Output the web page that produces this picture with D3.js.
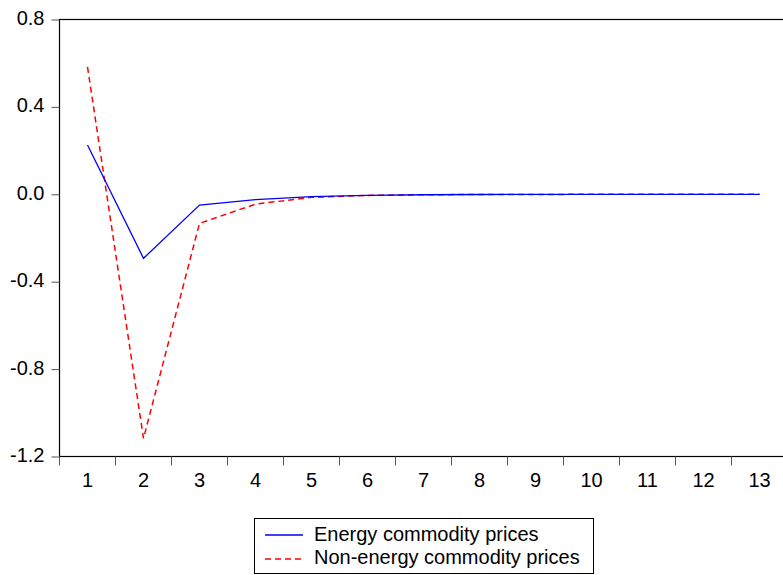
<!DOCTYPE html>
<html>
<head>
<meta charset="utf-8">
<script src="https://cdn.jsdelivr.net/npm/d3@7"></script>
<style>
  html, body { margin: 0; padding: 0; background: #fff; }
  svg { display: block; font-family: Arial, "Liberation Sans", sans-serif; }
</style>
</head>
<body>
<svg id="chart" width="783" height="575"></svg>
<script>
// Impulse response horizons
const periods = [1, 2, 3, 4, 5, 6, 7, 8, 9, 10, 11, 12, 13];
const energy = [0.226, -0.293, -0.049, -0.024, -0.011, -0.005, -0.002, -0.001, -0.0005, -0.0002, -0.0001, 0, 0];
const nonEnergy = [0.583, -1.117, -0.133, -0.045, -0.014, -0.005, -0.002, -0.001, -0.0005, -0.0002, -0.0001, 0, 0];
const yTicks = [0.8, 0.4, 0.0, -0.4, -0.8, -1.2];
const seriesNames = ["Energy commodity prices", "Non-energy commodity prices"];

(function draw() {
  const svg = d3.select("#chart");
  const plotLeft = 59.5, plotRight = 787.5, plotTop = 19.5, plotBottom = 456.5;
  const fontSize = 20;

  const x = d3.scaleBand().domain(periods).range([plotLeft, plotRight]);
  const y = d3.scaleLinear().domain([-1.2, 0.8]).range([plotBottom, plotTop]);

  // frame
  svg.append("rect")
    .attr("x", plotLeft).attr("y", plotTop)
    .attr("width", plotRight - plotLeft).attr("height", plotBottom - plotTop)
    .attr("fill", "none").attr("stroke", "#000").attr("stroke-width", 1.2);

  // y axis (plain hyphen for negatives)
  const fmt = d3.format(".1f");
  const yAxis = d3.axisLeft(y).tickValues(yTicks).tickSize(8).tickPadding(7)
    .tickFormat(d => fmt(d).replace("\u2212", "-"));
  const gy = svg.append("g").attr("transform", `translate(${plotLeft},0)`).call(yAxis);
  gy.select(".domain").remove();
  gy.selectAll(".tick line").attr("stroke", "#555");
  gy.selectAll(".tick text").attr("font-size", fontSize).attr("fill", "#000")
    .attr("dy", "0.25em")
    .attr("font-family", "Arial, 'Liberation Sans', sans-serif");

  // x axis: ticks at category boundaries, labels centered
  const gx = svg.append("g").attr("transform", `translate(0,${plotBottom})`);
  const boundaries = periods.map(p => x(p)).concat([plotRight]);
  gx.selectAll("line.tk").data(boundaries).join("line")
    .attr("class", "tk")
    .attr("x1", d => d).attr("x2", d => d)
    .attr("y1", 0).attr("y2", 9)
    .attr("stroke", "#555");
  gx.selectAll("text").data(periods).join("text")
    .attr("x", d => x(d) + x.bandwidth() / 2)
    .attr("y", 30)
    .attr("text-anchor", "middle")
    .attr("font-size", fontSize)
    .text(d => d);

  // series lines
  const line = d3.line()
    .x((d, i) => x(periods[i]) + x.bandwidth() / 2)
    .y(d => y(d));

  svg.append("path").datum(nonEnergy)
    .attr("d", line).attr("fill", "none")
    .attr("stroke", "#ff0000").attr("stroke-width", 1.5)
    .attr("stroke-dasharray", "6,4");

  svg.append("path").datum(energy)
    .attr("d", line).attr("fill", "none")
    .attr("stroke", "#0000ff").attr("stroke-width", 1.3);

  // legend
  const lg = svg.append("g");
  lg.append("rect")
    .attr("x", 254.5).attr("y", 518.5).attr("width", 339).attr("height", 55)
    .attr("fill", "#fff").attr("stroke", "#000").attr("stroke-width", 1);
  const legendStyles = [
    { color: "#0000ff", dash: null },
    { color: "#ff0000", dash: "6,4" }
  ];
  seriesNames.forEach((name, i) => {
    const yy = 535 + i * 24;
    lg.append("line")
      .attr("x1", 265).attr("x2", 303).attr("y1", yy).attr("y2", yy)
      .attr("stroke", legendStyles[i].color).attr("stroke-width", 1.3)
      .attr("stroke-dasharray", legendStyles[i].dash);
    lg.append("text")
      .attr("x", 314).attr("y", 541 + i * 23)
      .attr("font-size", fontSize)
      .text(name);
  });
})();
</script>
</body>
</html>
